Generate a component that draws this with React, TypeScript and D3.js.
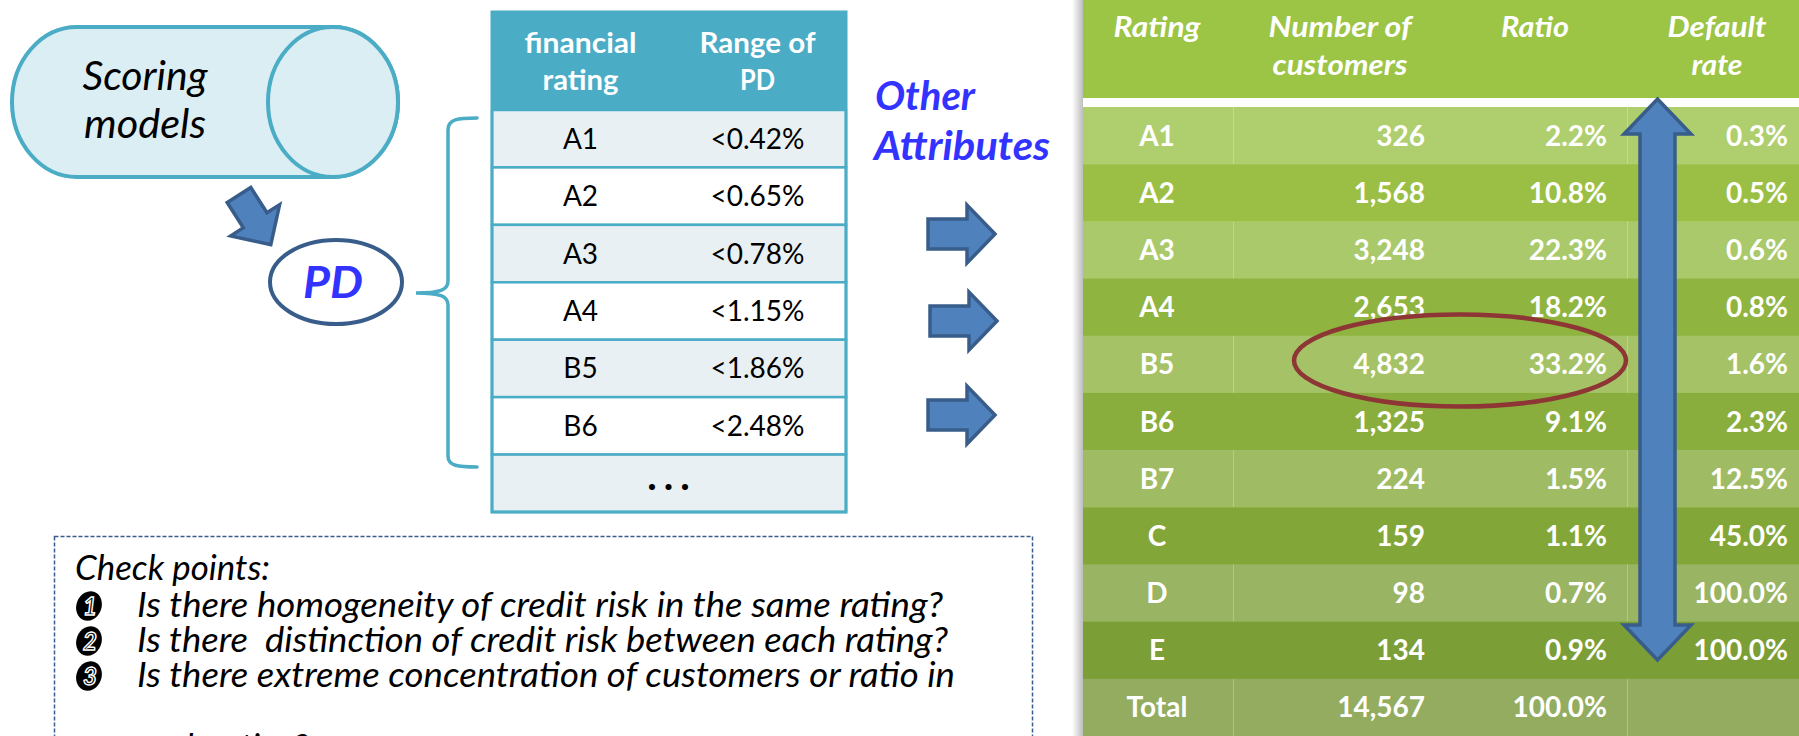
import React from "react";
import * as d3 from "d3";

const W = 1799;
const H = 736;

// ---- data ----
const pdRatings = ["A1", "A2", "A3", "A4", "B5", "B6", "..."];
const pdRanges = ["<0.42%", "<0.65%", "<0.78%", "<1.15%", "<1.86%", "<2.48%", ""];
const ratings = ["A1", "A2", "A3", "A4", "B5", "B6", "B7", "C", "D", "E", "Total"];
const customers = [326, 1568, 3248, 2653, 4832, 1325, 224, 159, 98, 134, 14567];
const ratios = [2.2, 10.8, 22.3, 18.2, 33.2, 9.1, 1.5, 1.1, 0.7, 0.9, 100.0];
const defaultRates: (number | null)[] = [0.3, 0.5, 0.6, 0.8, 1.6, 2.3, 12.5, 45.0, 100.0, 100.0, null];
const greenHeaders = [["Rating"], ["Number of", "customers"], ["Ratio"], ["Default", "rate"]];
const greenHeaderWidths = [[87], [143, 135], [68], [99, 51]];
const blueHeaders = [["financial", "rating"], ["Range of", "PD"]];
const blueHeaderWidths = [[112, 76], [116, 35]];
const checkTitle = "Check points:";
const checkMarks = ["1", "2", "3", ""];
const checkLines = [
  "Is there homogeneity of credit risk in the same rating?",
  "Is there\u00a0 distinction of credit risk between each rating?",
  "Is there extreme concentration of customers or ratio in",
  "each rating?",
];
const checkWidths = [806, 811, 818, 0];

// ---- styles ----
const FONT = "Lato, 'Open Sans', 'DejaVu Sans', sans-serif";
const TEAL = "#4bacc6";
const ARROW_FILL = "#4f81bd";
const ARROW_STROKE = "#385d8a";
const greenRowColors = [
  "#afce6d", "#9bbf45", "#a9c96a", "#90b440", "#a5c366", "#8aae3d",
  "#9fbb63", "#83a638", "#99b462", "#7c9e36", "#93ac5f",
];
const blueRowColors = ["#e8f0f3", "#ffffff"];

const fmtInt = d3.format(",");
const fmtPct = (v: number) => d3.format(".1f")(v) + "%";

// arrow along +x from 0 to len, centered on y=0
function arrowPts(len: number, headLen: number, shaftW: number, headW: number) {
  const b = len - headLen;
  return [
    [0, -shaftW / 2], [b, -shaftW / 2], [b, -headW / 2], [len, 0],
    [b, headW / 2], [b, shaftW / 2], [0, shaftW / 2],
  ].map((p) => p.join(",")).join(" ");
}

function doubleArrowPts(len: number, headLen: number, shaftW: number, headW: number) {
  const a = headLen, b = len - headLen;
  return [
    [0, 0], [a, -headW / 2], [a, -shaftW / 2], [b, -shaftW / 2], [b, -headW / 2],
    [len, 0], [b, headW / 2], [b, shaftW / 2], [a, shaftW / 2], [a, headW / 2],
  ].map((p) => p.join(",")).join(" ");
}

export default function App() {
  // blue table scales
  const pdRow = d3.scaleBand<string>().domain(pdRatings).range([110, 512]);
  const pdCol = d3.scaleBand<string>().domain(["rating", "range"]).range([492, 846]);

  // green table scales
  const gRow = d3.scaleBand<string>().domain(ratings).range([107, 736]);
  const gColCenter = d3.scaleOrdinal<number, number>().domain([0, 1, 2, 3]).range([1157, 1340, 1535, 1717]);
  const gColRight = d3.scaleOrdinal<string, number>().domain(["cust", "ratio", "def"]).range([1425, 1607, 1788]);

  // check points lines
  const checkY = d3.scaleLinear().domain([0, 1]).range([617, 652]);

  const rightArrowYs = [234, 321, 415];
  const rightArrowXs = [928, 930, 928];

  const leftCap = `M333,27 L77,27 A65,75 0 0 0 77,177 L333,177 A65,75 0 0 0 333,27 Z`;
  const brace = `M477,118 C458,118 448,119 448,130 L448,281 C448,290 440,293 416,293 C440,293 448,296 448,305 L448,456 C448,466 458,467 477,467`;

  return (
    <svg
      width={W}
      height={H}
      style={{ position: "absolute", left: 0, top: 0, display: "block", background: "#fff" }}
      fontFamily={FONT}
    >
      <defs>
        <linearGradient id="shadow" x1="0" x2="1" y1="0" y2="0">
          <stop offset="0" stopColor="#ffffff" />
          <stop offset="1" stopColor="#bdbdbd" />
        </linearGradient>
      </defs>
      <rect x={0} y={0} width={W} height={H} fill="#fff" />

      {/* Cylinder: Scoring models */}
      <path d={leftCap} fill="#dbeef3" stroke={TEAL} strokeWidth={4} />
      <ellipse cx={333} cy={102} rx={65} ry={75} fill="#dbeef3" stroke={TEAL} strokeWidth={4} />
      <text x={145} y={90} textAnchor="middle" fontSize={40} fontStyle="italic" fill="#000" textLength={125} lengthAdjust="spacingAndGlyphs">Scoring</text>
      <text x={145} y={138} textAnchor="middle" fontSize={40} fontStyle="italic" fill="#000" textLength={122} lengthAdjust="spacingAndGlyphs">models</text>

      {/* diagonal arrow */}
      <polygon
        points={arrowPts(59, 29, 28, 58)}
        transform={`translate(239,195) rotate(57.4)`}
        fill={ARROW_FILL}
        stroke={ARROW_STROKE}
        strokeWidth={3.5}
      />

      {/* PD ellipse */}
      <ellipse cx={336} cy={282} rx={66} ry={42} fill="#fff" stroke={ARROW_STROKE} strokeWidth={4} />
      <text x={333} y={298} textAnchor="middle" fontSize={43} fontWeight="bold" fontStyle="italic" fill="#3333ff" textLength={60} lengthAdjust="spacingAndGlyphs">PD</text>

      {/* brace */}
      <path d={brace} fill="none" stroke={TEAL} strokeWidth={3.5} strokeLinecap="round" />

      {/* Blue table */}
      <rect x={492} y={12} width={354} height={98} fill={TEAL} />
      {blueHeaders.map((lines, ci) => {
        const key = ci === 0 ? "rating" : "range";
        const cx = (pdCol(key) as number) + pdCol.bandwidth() / 2;
        return lines.map((t, li) => (
          <text key={`bh${ci}${li}`} x={cx} y={53 + li * 37} textAnchor="middle" fontSize={29} fontWeight="bold" fill="#fff" textLength={blueHeaderWidths[ci][li]} lengthAdjust="spacingAndGlyphs">{t}</text>
        ));
      })}
      {pdRatings.map((r, i) => {
        const y = pdRow(r) as number;
        const h = pdRow.bandwidth();
        return (
          <g key={`pr${i}`}>
            <rect x={492} y={y} width={354} height={h} fill={blueRowColors[i % 2]} stroke={TEAL} strokeWidth={2.5} />
            {r === "..." ? (
              <text x={672} y={y + h / 2 + 7} textAnchor="middle" fontSize={40} fontWeight="bold" letterSpacing={7} fill="#000">...</text>
            ) : (
              <>
                <text x={(pdCol("rating") as number) + pdCol.bandwidth() / 2} y={y + h / 2 + 10} textAnchor="middle" fontSize={28} fill="#000">{r}</text>
                <text x={(pdCol("range") as number) + pdCol.bandwidth() / 2} y={y + h / 2 + 10} textAnchor="middle" fontSize={28} fill="#000">{pdRanges[i]}</text>
              </>
            )}
          </g>
        );
      })}
      <rect x={492} y={12} width={354} height={500} fill="none" stroke={TEAL} strokeWidth={3} />

      {/* Other Attributes */}
      <text x={875} y={110} fontSize={40} fontWeight="bold" fontStyle="italic" fill="#3333ff" textLength={100} lengthAdjust="spacingAndGlyphs">Other</text>
      <text x={874} y={160} fontSize={40} fontWeight="bold" fontStyle="italic" fill="#3333ff" textLength={176} lengthAdjust="spacingAndGlyphs">Attributes</text>

      {rightArrowYs.map((y, i) => (
        <polygon
          key={`ra${i}`}
          points={arrowPts(67, 28, 30, 58)}
          transform={`translate(${rightArrowXs[i]},${y})`}
          fill={ARROW_FILL}
          stroke={ARROW_STROKE}
          strokeWidth={3.5}
        />
      ))}

      {/* Green table */}
      <rect x={1072} y={0} width={11} height={H} fill="url(#shadow)" />
      <rect x={1083} y={0} width={W - 1083} height={98} fill="#9cc445" />
      <rect x={1083} y={98} width={W - 1083} height={9} fill="#ffffff" />
      {greenHeaders.map((lines, ci) =>
        lines.map((t, li) => (
          <text key={`gh${ci}${li}`} x={gColCenter(ci)} y={37 + li * 38} textAnchor="middle" fontSize={28} fontWeight="bold" fontStyle="italic" fill="#fff" textLength={greenHeaderWidths[ci][li]} lengthAdjust="spacingAndGlyphs">{t}</text>
        ))
      )}
      {ratings.map((r, i) => {
        const y = gRow(r) as number;
        const h = gRow.bandwidth();
        const by = y + h / 2 + 10;
        const d = defaultRates[i];
        return (
          <g key={`gr${i}`}>
            <rect x={1083} y={y} width={W - 1083} height={h + 0.5} fill={greenRowColors[i]} />
            {i % 2 === 0 && (
              <>
                <line x1={1233.5} x2={1233.5} y1={y} y2={y + h} stroke="#ffffff" strokeOpacity={0.25} />
                <line x1={1627.5} x2={1627.5} y1={y} y2={y + h} stroke="#ffffff" strokeOpacity={0.25} />
              </>
            )}
            <text x={gColCenter(0)} y={by} textAnchor="middle" fontSize={28} fontWeight="bold" fill="#fff">{r}</text>
            <text x={gColRight("cust")} y={by} textAnchor="end" fontSize={28} fontWeight="bold" fill="#fff">{fmtInt(customers[i])}</text>
            <text x={gColRight("ratio")} y={by} textAnchor="end" fontSize={28} fontWeight="bold" fill="#fff">{fmtPct(ratios[i])}</text>
            {d !== null && (
              <text x={gColRight("def")} y={by} textAnchor="end" fontSize={28} fontWeight="bold" fill="#fff">{fmtPct(d)}</text>
            )}
          </g>
        );
      })}

      {/* red ellipse */}
      <ellipse cx={1460} cy={360.5} rx={166} ry={46} fill="none" stroke="#8e3535" strokeWidth={4.5} />

      {/* vertical double arrow */}
      <polygon
        points={doubleArrowPts(561, 35, 35, 67)}
        transform={`translate(1657.5,99) rotate(90)`}
        fill={ARROW_FILL}
        stroke={ARROW_STROKE}
        strokeWidth={3.5}
      />

      {/* Check points box */}
      <rect x={54.5} y={536.5} width={978} height={260} fill="none" stroke={ARROW_STROKE} strokeWidth={1.5} strokeDasharray="4 2" />
      <text x={75} y={580} fontSize={34} fontStyle="italic" fill="#000" textLength={195} lengthAdjust="spacingAndGlyphs">{checkTitle}</text>
      {checkLines.map((t, i) => {
        const y = checkY(i);
        return (
          <g key={`cl${i}`}>
            {checkMarks[i] && (
              <g transform={`translate(89,${y - 11})`}>
                <ellipse cx={0} cy={0} rx={12.5} ry={15} transform="rotate(22)" fill="#000" />
                <text x={1} y={8.5} textAnchor="middle" fontSize={24} fontWeight="bold" fontStyle="italic" fill="#000" stroke="#fff" strokeWidth={1.4}>{checkMarks[i]}</text>
              </g>
            )}
            <text
              x={137}
              y={i === 3 ? 759 : y}
              fontSize={34}
              fontStyle="italic"
              fill="#000"
              {...(checkWidths[i] ? { textLength: checkWidths[i], lengthAdjust: "spacingAndGlyphs" } : {})}
            >
              {t}
            </text>
          </g>
        );
      })}
    </svg>
  );
}
